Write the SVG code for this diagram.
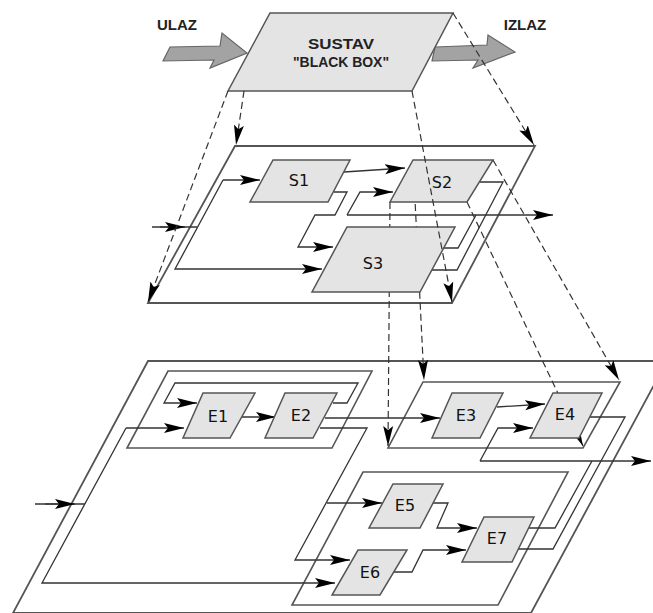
<svg xmlns="http://www.w3.org/2000/svg" width="653" height="613" viewBox="0 0 653 613">
<defs>
<marker id="ah" markerUnits="userSpaceOnUse" markerWidth="22" markerHeight="12" refX="20" refY="6" orient="auto"><path d="M0,1 L20,6 L0,11 L4,6 Z" fill="#000"/></marker>
<style>
.pl{fill:none;stroke:#555;stroke-width:1.8}
.grp{fill:none;stroke:#555;stroke-width:1.6}
.nd{fill:#e4e4e4;stroke:#555;stroke-width:1.5}
.c{fill:none;stroke:#333;stroke-width:1.3}
.a{marker-end:url(#ah)}
.d{fill:none;stroke:#333;stroke-width:1.2;stroke-dasharray:7 4}
.lb{font-family:"DejaVu Sans",sans-serif;font-size:16px;fill:#111;text-anchor:middle}
.bb{font-family:"Liberation Sans",Arial,sans-serif;font-size:15px;font-weight:bold;fill:#222;text-anchor:middle}
.blk{fill:#a3a3a3;stroke:#666;stroke-width:1.2}
</style>
</defs>
<rect width="653" height="613" fill="#fff"/>

<g id="planes">
<path id="plane-s" class="pl" d="M235,146 L535,146 L452,303 L148,303 Z"/>
<path id="plane-e" class="pl" d="M148,361 L667,361 L531,613 L13,613 Z"/>
<path id="grp-e12" class="grp" d="M168,371 L372,371 L332,448 L127,448 Z"/>
<path id="grp-e34" class="grp" d="M423,382 L620,382 L583,448 L388,448 Z"/>
<path id="grp-e567" class="grp" d="M363,472 L568,472 L498,605 L292,605 Z"/>
</g>

<g id="connectors">
<!-- S level -->
<path class="c" d="M152,227 L197,227"/>
<path class="c a" d="M160,227 L185,227"/>
<path class="c a" d="M223,180 L260,180"/>
<path class="c a" d="M223,180 L175,269 L322,269"/>
<path class="c a" d="M344,172 L405,168"/>
<path class="c a" d="M334,192 L347,192 L335,215 L315,215 L298,247 L333,247"/>
<path class="c a" d="M347,215 L360,192 L393,192"/>
<path class="c a" d="M347,215 L553,215"/>
<path class="c" d="M444,248 L458,248 L476,215"/>
<path class="c" d="M480,182 L503,182 L457,270 L432,270"/>
<!-- E level -->
<path class="c" d="M35,504 L85,504"/>
<path class="c a" d="M45,504 L75,504"/>
<path class="c a" d="M126,428 L184,428"/>
<path class="c a" d="M126,428 L42,583 L335,583"/>
<path class="c a" d="M333,403 L347,403 L358,383 L175,383 L164,403 L197,403"/>
<path class="c a" d="M242,417 L276,417"/>
<path class="c a" d="M325,418 L440,418"/>
<path class="c a" d="M320,428 L367,428 L295,560 L350,560"/>
<path class="c a" d="M327,503 L382,503"/>
<path class="c a" d="M497,407 L545,404"/>
<path class="c a" d="M480,461 L498,428 L533,428"/>
<path class="c a" d="M480,461 L651,461"/>
<path class="c" d="M529,528 L555,528 L592,461"/>
<path class="c" d="M588,417 L625,417 L553,549 L518,549"/>
<path class="c a" d="M433,503 L448,503 L437,528 L477,528"/>
<path class="c a" d="M394,572 L412,572 L423,550 L466,550"/>
<!-- S to E projections -->
<path class="d a" d="M390,202 L388,446"/>
<path class="d a" d="M413,160 L424,380"/>
<path class="d a" d="M467,202 L583,446"/>
<path class="d a" d="M493,160 L619,380"/>
</g>

<g id="ulaz">
<polygon class="blk" points="170,47 220,46 222,33 247,53 210,68 214,60 163,61"/>
<text class="bb" x="177" y="30">ULAZ</text>
</g>
<g id="izlaz">
<polygon class="blk" points="435,47 487,45 488,35 515,52 473,68 478,60 432,61"/>
<text class="bb" x="525" y="30">IZLAZ</text>
</g>

<g id="blackbox">
<polygon class="nd" points="270,13 453,13 412,91 228,91"/>
<text class="bb" x="341" y="49" textLength="66" lengthAdjust="spacingAndGlyphs">SUSTAV</text>
<text class="bb" x="341" y="67" textLength="96" lengthAdjust="spacingAndGlyphs">"BLACK BOX"</text>
</g>

<g id="S1"><polygon class="nd" points="273,160 350,160 328,202 250,202"/><text class="lb" x="299" y="186">S1</text></g>
<g id="S2"><polygon class="nd" points="413,160 493,160 467,202 390,202"/><text class="lb" x="442" y="188">S2</text></g>
<g id="S3"><polygon class="nd" points="347,227 455,227 420,292 312,292"/><text class="lb" x="373" y="269">S3</text></g>
<g id="E1"><polygon class="nd" points="203,393 255,393 230,438 183,438"/><text class="lb" x="218" y="422">E1</text></g>
<g id="E2"><polygon class="nd" points="285,393 337,393 313,438 265,438"/><text class="lb" x="301" y="421">E2</text></g>
<g id="E3"><polygon class="nd" points="452,393 503,393 480,438 432,438"/><text class="lb" x="466" y="421">E3</text></g>
<g id="E4"><polygon class="nd" points="553,393 602,393 579,438 530,438"/><text class="lb" x="565" y="420">E4</text></g>
<g id="E5"><polygon class="nd" points="393,484 443,484 420,528 369,528"/><text class="lb" x="405" y="511">E5</text></g>
<g id="E6"><polygon class="nd" points="358,550 407,550 380,595 332,595"/><text class="lb" x="370" y="578">E6</text></g>
<g id="E7"><polygon class="nd" points="484,517 534,517 512,562 462,562"/><text class="lb" x="497" y="544">E7</text></g>

<g id="projections">
<path class="d a" d="M228,91 L148,302"/>
<path class="d a" d="M244,91 L236,145"/>
<path class="d a" d="M412,91 L452,302"/>
<path class="d a" d="M453,13 L534,145"/>
</g>
</svg>
